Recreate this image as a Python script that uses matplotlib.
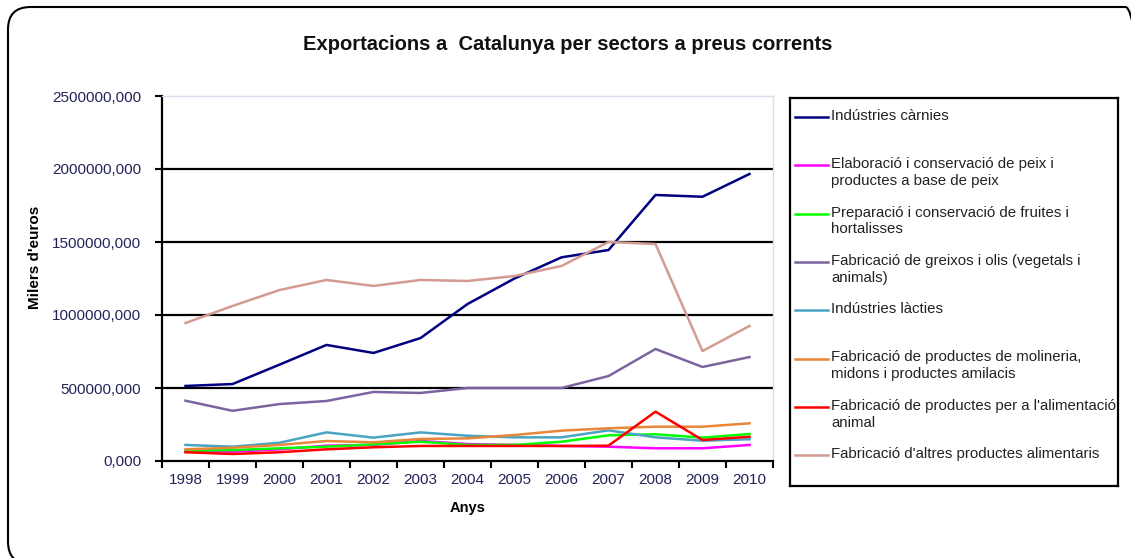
import matplotlib
matplotlib.use("Agg")
import matplotlib.pyplot as plt
from matplotlib.patches import FancyBboxPatch
from matplotlib.ticker import FuncFormatter

plt.rcParams['font.family'] = ['Liberation Sans', 'DejaVu Sans']

years = ["1998", "1999", "2000", "2001", "2002", "2003", "2004",
         "2005", "2006", "2007", "2008", "2009", "2010"]

carnies = [514, 527, 660, 795, 740, 842, 1075, 1250, 1395, 1445, 1822, 1810, 1966]
peix = [68, 64, 80, 105, 110, 137, 116, 110, 103, 98, 87, 87, 110]
fruites = [71, 75, 87, 98, 114, 132, 110, 110, 132, 176, 183, 160, 185]
greixos = [413, 344, 390, 411, 473, 466, 500, 500, 500, 582, 767, 644, 712]
lacties = [110, 98, 125, 196, 160, 196, 173, 162, 162, 210, 162, 139, 149]
molineria = [80, 91, 110, 137, 128, 151, 155, 178, 208, 224, 235, 235, 258]
animal = [60, 48, 60, 80, 94, 103, 103, 103, 103, 105, 338, 144, 166]
altres = [945, 1062, 1171, 1240, 1199, 1240, 1233, 1267, 1336, 1500, 1486, 753, 925]

labels = [
    "Indústries càrnies",
    "Elaboració i conservació de peix i\nproductes a base de peix",
    "Preparació i conservació de fruites i\nhortalisses",
    "Fabricació de greixos i olis (vegetals i\nanimals)",
    "Indústries làcties",
    "Fabricació de productes de molineria,\nmidons i productes amilacis",
    "Fabricació de productes per a l'alimentació\nanimal",
    "Fabricació d'altres productes alimentaris",
]
series = [carnies, peix, fruites, greixos, lacties, molineria, animal, altres]
colors = ["#000080", "#ff00ff", "#00ff00", "#7b64a0",
          "#4aa3c2", "#e8873a", "#ff0000", "#d49a94"]

navy = "#23235a"

fig = plt.figure(figsize=(11.31, 5.58), dpi=100)

# outer rounded frame (bottom and right run off the picture, as in the source)
frame = FancyBboxPatch((8 / 1131, -6 / 558), 1140 / 1131, 557 / 558,
                       boxstyle="round,pad=0,rounding_size=0.02",
                       transform=fig.transFigure, fill=False,
                       edgecolor="black", linewidth=1.5, mutation_aspect=2.0)
fig.patches.append(frame)

ax = fig.add_axes([162 / 1131, 97 / 558, 611 / 1131, 365 / 558])
x = list(range(len(years)))
for vals, col in zip(series, colors):
    ax.plot(x, [v * 1000 for v in vals], color=col, linewidth=1.8, zorder=3)

ax.set_xlim(-0.5, len(years) - 0.5)
ax.set_ylim(0, 2500000)
ax.set_yticks([0, 500000, 1000000, 1500000, 2000000, 2500000])
ax.yaxis.set_major_formatter(FuncFormatter(lambda v, p: "%d,000" % v))
for g in [500000, 1000000, 1500000, 2000000]:
    ax.axhline(g, color="black", linewidth=1.6, zorder=2)

ax.set_xticks([i - 0.5 for i in range(len(years) + 1)])
ax.set_xticklabels([])
ax.set_xticks(x, minor=True)
ax.set_xticklabels(years, minor=True)
ax.tick_params(axis="x", which="minor", length=0, pad=9, labelsize=11, labelcolor=navy)
ax.tick_params(axis="x", which="major", length=5, width=1.5, direction="out")
ax.tick_params(axis="y", length=5, width=1.5, direction="out", labelsize=11,
               labelcolor=navy, pad=10)

for s in ["left", "bottom"]:
    ax.spines[s].set_linewidth(1.6)
    ax.spines[s].set_color("black")
for s in ["top", "right"]:
    ax.spines[s].set_color("#dcdcec")
    ax.spines[s].set_linewidth(1.0)

ax.set_xlabel("Anys", fontsize=10.5, fontweight="bold", labelpad=10)
fig.text(35 / 1131, 1 - 257 / 558, "Milers d'euros", rotation=90, fontsize=11,
         fontweight="bold", ha="center", va="center")
fig.text(568 / 1131, 1 - 44 / 558, "Exportacions a  Catalunya per sectors a preus corrents",
         fontsize=14.5, fontweight="bold", ha="center", va="center", color="#111111")

# legend box
lg = fig.add_axes([790 / 1131, 72 / 558, 328 / 1131, 388 / 558])
lg.set_xlim(0, 328)
lg.set_ylim(388, 0)
lg.set_xticks([])
lg.set_yticks([])
for s in lg.spines.values():
    s.set_linewidth(1.6)
    s.set_color("black")
for i, (lab, col) in enumerate(zip(labels, colors)):
    yy = 19 + i * 48.3
    lg.plot([5, 38], [yy, yy], color=col, linewidth=1.8)
    lg.text(41, yy - 8, lab, fontsize=10.8, va="top", ha="left",
            color="#222222", linespacing=1.25)

fig.savefig("out.png", dpi=100)
